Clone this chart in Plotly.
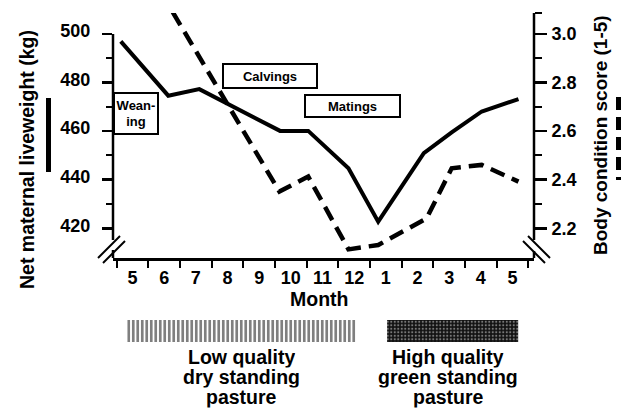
import plotly.graph_objects as go

# ---------------- data ----------------
month_labels = ["5", "6", "7", "8", "9", "10", "11", "12", "1", "2", "3", "4", "5"]
month_pos = list(range(len(month_labels)))
month_bounds = [i - 0.5 for i in range(len(month_labels) + 1)]

# Net maternal liveweight (kg) - solid line (x in months from first label)
lw_x = [-0.37, 1.13, 2.11, 4.66, 5.55, 6.82, 7.76, 9.20, 10.08, 11.03, 12.19]
lw_kg = [497.0, 474.6, 477.3, 460.1, 460.1, 444.7, 422.7, 450.9, 459.5, 468.1, 473.2]

# Body condition score (1-5) - dashed line
bcs_x = [1.27, 4.64, 5.55, 6.82, 7.76, 9.29, 10.08, 11.03, 12.19]
bcs = [3.09, 2.351, 2.413, 2.113, 2.131, 2.241, 2.447, 2.461, 2.392]

kg_ticks = [420, 440, 460, 480, 500]
kg_minor = [430, 450, 470, 490]
bcs_ticks = [2.2, 2.4, 2.6, 2.8, 3.0]
bcs_ticktext = ["2.2", "2.4", "2.6", "2.8", "3.0"]
bcs_minor = [2.3, 2.5, 2.7, 2.9, 3.085]

pasture_lines = [["Low quality", "dry standing", "pasture"],
                 ["High quality", "green standing", "pasture"]]
pasture_start = [-0.17, 8.04]
pasture_end = [7.06, 12.18]
pasture_shape = ["|", "."]

events = ["Wean-<br>ing", "Calvings", "Matings"]

# ---------------- layout helpers ----------------
W, H = 632, 410
def px(x):
    return x / W
def py(y):
    return 1 - y / H

FONT = "Liberation Sans"
x_dom = [px(113), px(534)]
y_dom = [py(258), py(13)]
x_rng = [-0.616, 12.68]

fig = go.Figure()
fig.add_trace(go.Scatter(x=lw_x, y=lw_kg, mode="lines",
                         line=dict(color="black", width=4),
                         xaxis="x", yaxis="y", name="Liveweight"))
fig.add_trace(go.Scatter(x=bcs_x, y=bcs, mode="lines",
                         line=dict(color="black", width=4.5, dash="15px,8px"),
                         xaxis="x", yaxis="y2", name="BCS"))
for s, e, shp in zip(pasture_start, pasture_end, pasture_shape):
    if shp == "|":
        pat = dict(shape="|", size=4.5, solidity=0.6, fgcolor="black", bgcolor="white")
    else:
        pat = dict(shape=".", size=3.5, solidity=0.3, fgcolor="#dddddd", bgcolor="#111111")
    fig.add_trace(go.Bar(y=[0], x=[e - s], base=[s], orientation="h", width=1,
                         xaxis="x2", yaxis="y3",
                         marker=dict(color="white", line=dict(width=0), pattern=pat)))

tickfont = dict(family=FONT, size=18, color="black", weight="bold")
fig.update_layout(
    width=W, height=H, margin=dict(l=0, r=0, t=0, b=0),
    paper_bgcolor="white", plot_bgcolor="white", showlegend=False,
    barmode="overlay", hovermode=False,
    font=dict(family=FONT, color="black"),
    xaxis=dict(domain=x_dom, range=x_rng, anchor="y",
               showline=True, linewidth=2.5, linecolor="black",
               showgrid=False, zeroline=False,
               tickmode="array", tickvals=month_pos, ticktext=month_labels,
               ticks="", tickfont=tickfont, ticklabelstandoff=2,
               minor=dict(tickmode="array", tickvals=month_bounds, ticks="outside",
                          ticklen=7, tickwidth=2, tickcolor="black")),
    yaxis=dict(domain=y_dom, range=[407.75, 508.66], anchor="x",
               showline=False, showgrid=False, zeroline=False,
               tickmode="array", tickvals=kg_ticks, ticks="outside",
               ticklen=10, tickwidth=2.5, tickcolor="black", tickfont=tickfont,
               ticklabelstandoff=8, ticklabelshift=-3,
               minor=dict(tickmode="array", tickvals=kg_minor, ticks="outside",
                          ticklen=6, tickwidth=2, tickcolor="black")),
    yaxis2=dict(domain=y_dom, range=[2.0775, 3.0866], anchor="x", overlaying="y",
                side="right", showline=False, showgrid=False, zeroline=False,
                tickmode="array", tickvals=bcs_ticks, ticktext=bcs_ticktext,
                ticks="outside", ticklen=12, tickwidth=2.5, tickcolor="black",
                tickfont=tickfont, ticklabelstandoff=1,
                minor=dict(tickmode="array", tickvals=bcs_minor, ticks="outside",
                           ticklen=7, tickwidth=2, tickcolor="black")),
    xaxis2=dict(domain=x_dom, range=x_rng, anchor="y3", visible=False),
    yaxis3=dict(domain=[py(342), py(320)], range=[-0.5, 0.5], anchor="x2", visible=False),
)

shapes = []
def seg(x0, y0, x1, y1, w=2.5, dash=None):
    d = dict(type="line", xref="paper", yref="paper",
             x0=px(x0), y0=py(y0), x1=px(x1), y1=py(y1),
             line=dict(color="black", width=w))
    if dash:
        d["line"]["dash"] = dash
    shapes.append(d)

# axis lines with breaks
seg(113, 34, 113, 240)
seg(534, 13, 534, 240)
seg(113, 250, 113, 258)
seg(534, 251, 534, 258)
seg(98, 258, 120, 236, 2)
seg(103, 263, 125, 241, 2)
seg(550, 258, 528, 236, 2)
seg(545, 263, 523, 241, 2)
# line keys beside axis titles
seg(48.5, 98, 48.5, 172, 5)
seg(618.5, 97, 618.5, 180, 5, "13px,7px")
fig.update_layout(shapes=shapes)

ann = []
def box(text, cx, cy, w, h, size):
    ann.append(dict(text=text, xref="paper", yref="paper", x=px(cx), y=py(cy),
                    xanchor="center", yanchor="middle", showarrow=False,
                    width=w - 2, height=h - 2, borderwidth=2, borderpad=0,
                    bordercolor="black", bgcolor="white",
                    font=dict(family=FONT, size=size, color="black", weight="bold")))
box(events[0], 135.5, 113.5, 44, 41, 13)
box(events[1], 269.5, 76.5, 94, 24, 13)
box(events[2], 352.5, 106, 95, 22, 13)

def label(text, cx, cy, size, angle=0, h=None):
    d = dict(text=text, xref="paper", yref="paper", x=px(cx), y=py(cy),
             xanchor="center", yanchor="middle", showarrow=False,
             textangle=angle,
             font=dict(family=FONT, size=size, color="black", weight="bold"))
    if h:
        d.update(height=h, borderpad=0, valign="bottom")
    ann.append(d)
label("Net maternal liveweight (kg)", 27, 160, 19.5, -90)
label("Body condition score (1-5)", 600, 135, 19, -90)
label("Month", 319, 300.4, 19.5, h=19.5)
for lines, cx in zip(pasture_lines, [241, 448]):
    for k, t in enumerate(lines):
        label(t, cx, 358.3 + 19.8 * k, 19.5, h=19.5)
fig.update_layout(annotations=ann)

fig.write_html("out.html", config={"displayModeBar": False, "staticPlot": True},
               post_script="document.body.style.margin='0px';")
